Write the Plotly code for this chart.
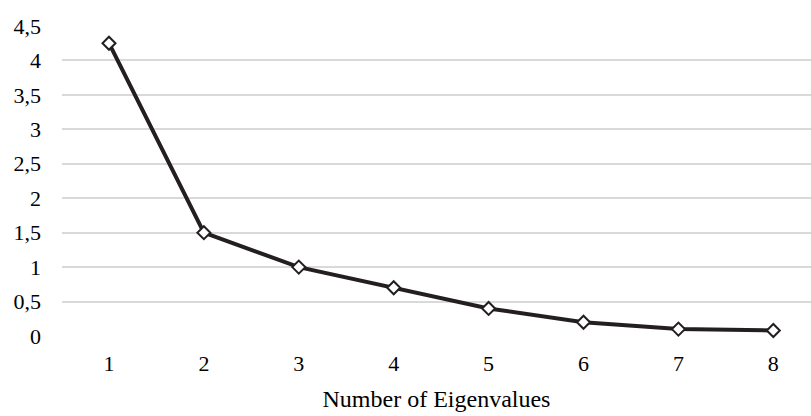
import plotly.graph_objects as go

categories = [1, 2, 3, 4, 5, 6, 7, 8]
eigenvalues = [4.25, 1.5, 1.0, 0.7, 0.4, 0.2, 0.1, 0.08]
y_tickvals = [0, 0.5, 1, 1.5, 2, 2.5, 3, 3.5, 4, 4.5]
y_ticktext = ["0", "0,5", "1", "1,5", "2", "2,5", "3", "3,5", "4", "4,5"]
x_title = "Number of Eigenvalues"

fig = go.Figure()
fig.add_trace(go.Scatter(
    x=categories, y=eigenvalues, mode="lines+markers",
    line=dict(color="#231f20", width=4),
    marker=dict(symbol="diamond", size=10, color="white",
                line=dict(color="#231f20", width=2)),
    cliponaxis=False,
))

font_family = "Liberation Serif, Times New Roman, serif"
fig.update_layout(
    width=811, height=416,
    margin=dict(l=62, r=0, t=26, b=80),
    paper_bgcolor="white", plot_bgcolor="white",
    showlegend=False,
    font=dict(family=font_family, color="#000000", size=22),
    xaxis=dict(
        range=[0.505, 8.397],
        tickvals=categories,
        ticktext=[str(c) for c in categories],
        showgrid=False, zeroline=False, showline=False,
        ticks="", ticklabelstandoff=12,
        tickfont=dict(size=22, family=font_family),
        title=dict(text=x_title, font=dict(size=24, family=font_family), standoff=15),
    ),
    yaxis=dict(
        range=[0, 4.5],
        tickvals=y_tickvals,
        ticktext=y_ticktext,
        showgrid=True, gridcolor="#d9d9d9", gridwidth=1.5,
        zeroline=False, showline=False,
        ticks="", ticklabelstandoff=20,
        tickfont=dict(size=22, family=font_family),
    ),
)

fig.write_html("out.html")
